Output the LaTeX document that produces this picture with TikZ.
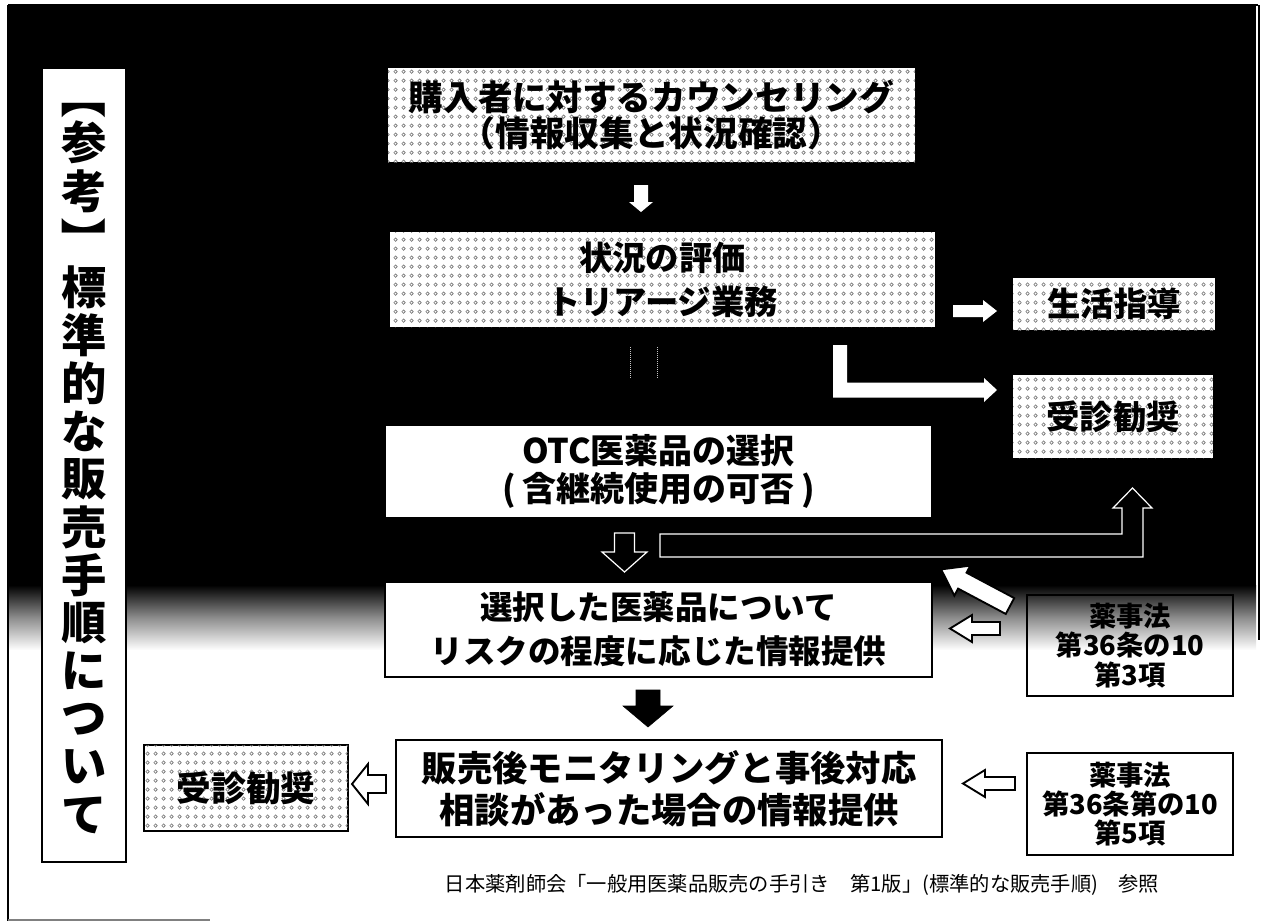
\documentclass[tikz,border=0pt]{standalone}
\usepackage{fontspec}
\setmainfont{Noto Sans CJK JP}
\usetikzlibrary{patterns.meta}

\tikzdeclarepattern{
  name=scandots, type=uncolored,
  bottom left={(0pt,0pt)}, top right={(6pt,7pt)},
  tile size={(6pt,7pt)},
  code={\draw[line width=0.5pt] (3pt,3.5pt) circle[radius=1.4pt];}
}

\newcommand\blockarr[8]{%
  \begin{scope}[shift={(#2,#3)},rotate=#4]
    \draw[#1] (0,-#6) -- ({#5-#8},-#6) -- ({#5-#8},-#7) -- (#5,0) -- ({#5-#8},#7) -- ({#5-#8},#6) -- (0,#6) -- cycle;
  \end{scope}}

\begin{document}
\begin{tikzpicture}[x=0.75pt,y=-0.75pt,
  box/.style={rectangle, inner sep=0pt, align=center},
  dots/.style={fill=white, postaction={pattern=scandots, pattern color=black!55}},
  wbox/.style={fill=white, draw=black, line width=0.8pt},
  lawbox/.style={draw=black, line width=1.1pt},
  warrow/.style={fill=white, draw=none},
  harrow/.style={fill=black, draw=white, line width=0.9pt},
  oarrow/.style={fill=white, draw=black, line width=1.4pt, line join=miter},
  barrow/.style={fill=black, draw=black},
  bigtext/.style={font=\bfseries\fontsize{25}{33}\selectfont},
  tchar/.style={inner sep=0pt, font=\bfseries\fontsize{34}{34}\selectfont}
]
\useasboundingbox (0,0) rectangle (1261,922);
% background
\fill[black] (8,5) rectangle (1256,586);
\shade[top color=black, bottom color=white, middle color=black!45] (8,585) rectangle (1256,650);
\draw[line width=1.1pt] (8,5) -- (8,921);
\draw[line width=0.8pt] (8,5) -- (1258,5);
\draw[line width=0.8pt] (1259,5) -- (1259,640);
\draw[gray, line width=1pt] (8,920) -- (210,920);

% title
\node[box, draw=black, fill=white, line width=1pt, minimum width={84*0.75pt}, minimum height={794*0.75pt}] (title) at (84,465) {};
\node[tchar] (tb1) at (84,96) {\rotatebox[origin=c]{-90}{【}};
\node[tchar] (tb2) at (84,240) {\rotatebox[origin=c]{-90}{】}};
\foreach \c/\yy [count=\i] in {参/142.5,考/191.5,標/287,準/335,的/383,な/431,販/479,売/527,手/575,順/623,に/671,つ/719,い/767,て/815}
  \node[tchar] (tc\i) at (84,\yy) {\c};

% boxes
\node[box, dots, minimum width={527*0.75pt}, minimum height={94*0.75pt},
  font=\bfseries\fontsize{26}{26.5}\selectfont] (b1) at (651.5,115)
  {購入者に対するカウンセリング\\（情報収集と状況確認）};
\node[box, dots, bigtext, minimum width={545*0.75pt}, minimum height={95*0.75pt}] (b2) at (662.5,279.5)
  {状況の評価\\トリアージ業務};
\node[box, wbox, minimum width={547*0.75pt}, minimum height={93*0.75pt},
  font=\bfseries\fontsize{25.5}{28.5}\selectfont] (otc) at (658.5,471.5)
  {OTC医薬品の選択\\(\hspace{.2em}含継続使用の可否\hspace{.2em})};
\node[box, wbox, minimum width={547*0.75pt}, minimum height={95*0.75pt},
  font=\bfseries\fontsize{24.4}{33}\selectfont] (b4) at (658.5,629.5)
  {選択した医薬品について\\リスクの程度に応じた情報提供};
\node[box, fill=white, draw=black, line width=1.2pt, minimum width={546*0.75pt}, minimum height={97*0.75pt},
  font=\bfseries\fontsize{26.5}{31.5}\selectfont] (b5) at (669,788.5)
  {販売後モニタリングと事後対応\\相談があった場合の情報提供};
\node[box, dots, minimum width={202*0.75pt}, minimum height={52*0.75pt},
  font=\bfseries\fontsize{25}{25}\selectfont] (life) at (1114,304) {生活指導};
\node[box, dots, minimum width={200*0.75pt}, minimum height={83*0.75pt},
  font=\bfseries\fontsize{25}{25}\selectfont] (visitR) at (1113,416.5) {受診勧奨};
\node[box, dots, draw=black, line width=1.2pt, minimum width={204*0.75pt}, minimum height={86*0.75pt},
  font=\bfseries\fontsize{26}{26}\selectfont] (visitL) at (246,788) {受診勧奨};
\node[box, lawbox, minimum width={206*0.75pt}, minimum height={101*0.75pt},
  font=\bfseries\fontsize{20.5}{22}\selectfont] (law1) at (1130,645.5) {薬事法\\第36条の10\\第3項};
\node[box, lawbox, minimum width={206*0.75pt}, minimum height={102*0.75pt},
  font=\bfseries\fontsize{20.5}{22}\selectfont] (law2) at (1130,804) {薬事法\\第36条第の10\\第5項};

% footer
\node[font=\fontsize{15.2}{15.2}\selectfont, inner sep=0pt] (src) at (802,885)
  {日本薬剤師会「一般用医薬品販売の手引き　第1版」(標準的な販売手順)　参照};

% arrows
\blockarr{warrow}{641}{185}{-90}{27}{7}{12}{10}
\blockarr{warrow}{953}{311}{0}{44}{6}{11}{14}
\fill[white] (833,345) -- (847,345) -- (847,382.5) -- (984,382.5) -- (984,378) -- (997,390)
  -- (984,402) -- (984,397.5) -- (833,397.5) -- cycle;
\draw[gray!45, densely dotted, line width=0.5pt] (630,347) -- (630,378) (657,347) -- (657,378);
\blockarr{harrow}{624.5}{533}{-90}{39}{10}{22.5}{20}
\draw[harrow] (660,534) -- (1122,534) -- (1122,508) -- (1113,508) -- (1132.5,488) -- (1152,508)
  -- (1143,508) -- (1143,557) -- (660,557) -- cycle;
\blockarr{oarrow}{1010}{606}{152}{78}{9}{17}{24}
\blockarr{oarrow}{1000}{628.5}{180}{50}{6.5}{13.5}{22}
\blockarr{oarrow}{1015}{783.5}{180}{52}{6.5}{13.5}{22}
\blockarr{oarrow}{386}{784}{180}{34}{9}{20}{16}
\blockarr{barrow}{648}{690}{-90}{37}{12}{25}{21}
\end{tikzpicture}
\end{document}
